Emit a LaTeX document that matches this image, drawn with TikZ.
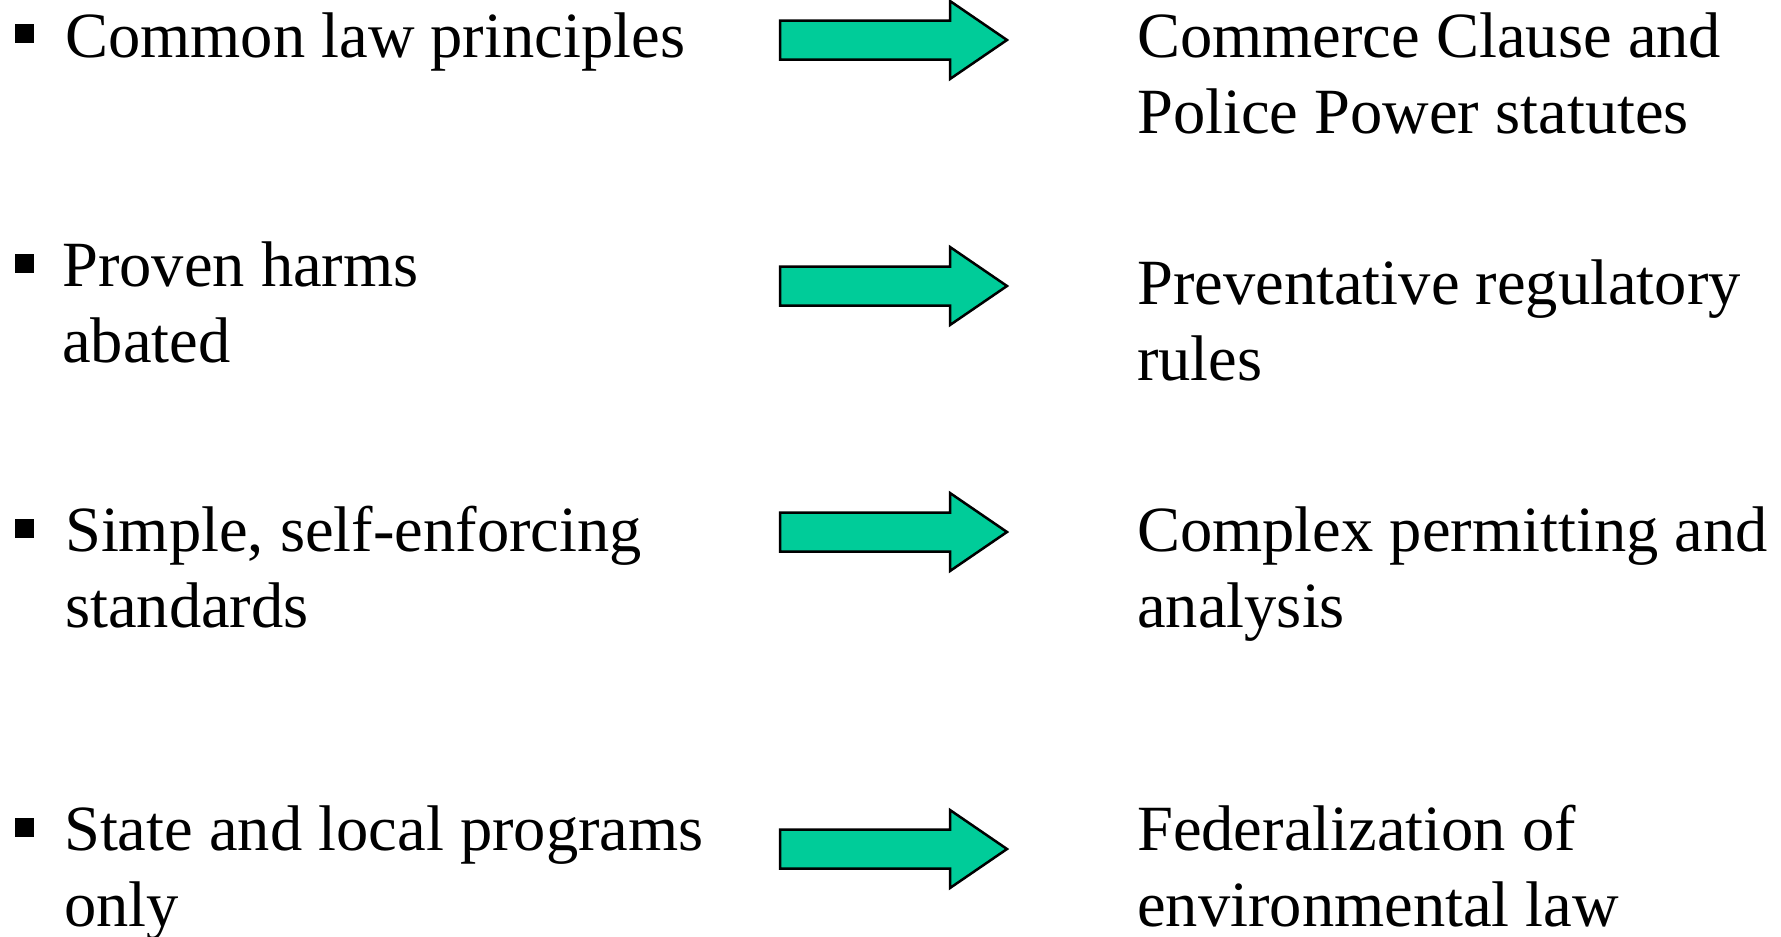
\documentclass[tikz,border=0pt]{standalone}
\usepackage{fontspec}
\setmainfont{Liberation Serif}
\definecolor{arrowgreen}{HTML}{00CC99}
\tikzset{
  itemtext/.style={anchor=base west, inner sep=0pt, align=left, font=\fontsize{64.5}{76}\selectfont},
  bulletsq/.style={fill=black, minimum size=19pt, inner sep=0pt, draw=none},
  blockarrow/.style={draw=black, fill=arrowgreen, line width=2.5pt, line join=miter}
}
\newcommand{\blockarr}[1]{%
  \draw[blockarrow] (780,#1-19.5) -- (950,#1-19.5) -- (950,#1-39) -- (1007,#1) -- (950,#1+39) -- (950,#1+19.5) -- (780,#1+19.5) -- cycle;}
\begin{document}
\begin{tikzpicture}[x=1pt,y=-1pt]
\useasboundingbox (0,0) rectangle (1781,937);
% bullets
\node[bulletsq] (b1) at (24.5,33.5) {};
\node[bulletsq] (b2) at (24.5,263.5) {};
\node[bulletsq] (b3) at (24.5,528.5) {};
\node[bulletsq] (b4) at (24.5,827.5) {};
% left texts (base anchor = baseline of last line)
\node[itemtext] (l1) at (65,57) {Common law principles};
\node[itemtext] (l2) at (62,362) {Proven harms\\abated};
\node[itemtext] (l3) at (65,627) {Simple, self-enforcing\\standards};
\node[itemtext] (l4) at (64,926) {State and local programs\\only};
% right texts
\node[itemtext] (r1) at (1137,133) {Commerce Clause and\\Police Power statutes};
\node[itemtext] (r2) at (1137,380) {Preventative regulatory\\rules};
\node[itemtext] (r3) at (1137,627) {Complex permitting and\\analysis};
\node[itemtext] (r4) at (1137,926) {Federalization of\\environmental law};
% arrows
\blockarr{40}
\blockarr{286}
\blockarr{532}
\blockarr{849}
\end{tikzpicture}
\end{document}
